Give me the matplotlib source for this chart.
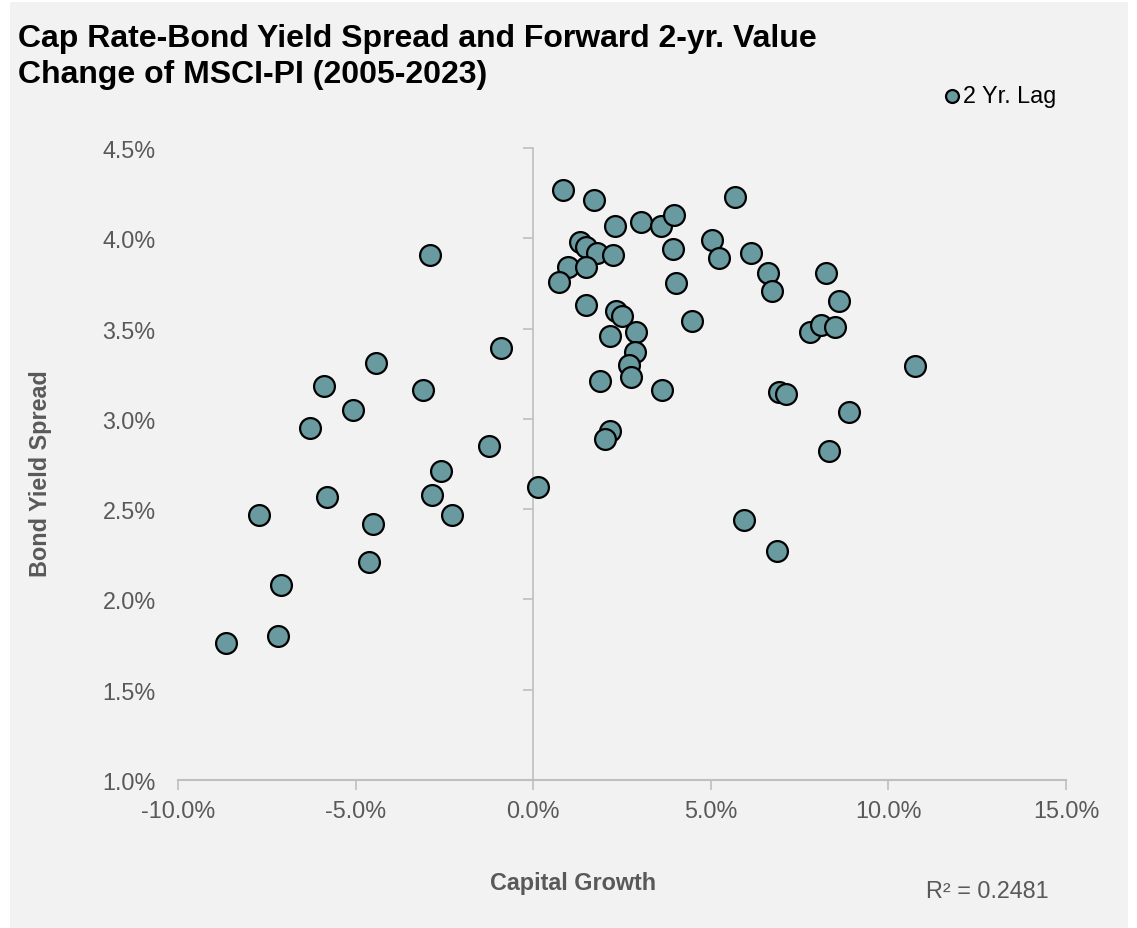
import matplotlib
matplotlib.use("Agg")
import matplotlib.pyplot as plt
from matplotlib.patches import Rectangle
from matplotlib.ticker import FuncFormatter, MultipleLocator

# Data (percent)
capital_growth = [0.85, 1.72, 2.29, 3.03, 3.61, 3.96, 5.69, 1.32, 1.48, 1.81,
                  2.26, 0.99, 1.48, 0.74, 3.93, 5.03, 5.22, 6.12, 6.62, 6.73,
                  4.01, 1.50, 2.34, 2.50, 4.47, 2.15, 2.90, 2.87, 2.69, 2.75,
                  1.89, 3.62, 6.93, 7.12, 7.78, 8.24, 8.61, 8.10, 8.50, 10.74,
                  8.90, 8.33, 2.15, 2.03, -0.90, -4.42, -5.88, -3.09, -5.07, -6.29,
                  -1.24, -2.59, -2.84, -5.81, -7.71, -4.51, -2.30, -4.63, -7.09, -8.64,
                  -7.19, -2.90, 0.14, 5.94, 6.87]
bond_yield_spread = [4.27, 4.21, 4.07, 4.09, 4.07, 4.13, 4.23, 3.98, 3.95, 3.92,
                     3.91, 3.84, 3.84, 3.76, 3.94, 3.99, 3.89, 3.92, 3.81, 3.71,
                     3.75, 3.63, 3.60, 3.57, 3.54, 3.46, 3.48, 3.37, 3.30, 3.23,
                     3.21, 3.16, 3.15, 3.14, 3.48, 3.81, 3.65, 3.52, 3.51, 3.29,
                     3.04, 2.82, 2.93, 2.89, 3.39, 3.31, 3.18, 3.16, 3.05, 2.95,
                     2.85, 2.71, 2.58, 2.57, 2.47, 2.42, 2.47, 2.21, 2.08, 1.76,
                     1.80, 3.91, 2.62, 2.44, 2.27]
series_label = "2 Yr. Lag"
r_squared_text = "R² = 0.2481"
title_lines = ["Cap Rate-Bond Yield Spread and Forward 2-yr. Value",
               "Change of MSCI-PI (2005-2023)"]

BG = "#F2F2F2"
GREY = "#BFBFBF"
TXT = "#595959"
FILL = "#699A9F"
FS = 16.8

plt.rcParams['font.family'] = ['Liberation Sans', 'DejaVu Sans']

W, H = 1137, 929
fig = plt.figure(figsize=(W/100, H/100), dpi=100, facecolor="white")
fig.patches.append(Rectangle((10/W, 0), 1118/W, 926/H, transform=fig.transFigure,
                             facecolor=BG, edgecolor="none", zorder=-10))

ax = fig.add_axes([178/W, 1-781/H, 888/W, 632/H], facecolor=BG)

ax.scatter(capital_growth, bond_yield_spread, s=225, c=FILL, edgecolors="black",
           linewidths=1.6, zorder=3, label=series_label)

ax.set_xlim(-10, 15)
ax.set_ylim(1.0, 4.5)
ax.xaxis.set_major_locator(MultipleLocator(5))
ax.yaxis.set_major_locator(MultipleLocator(0.5))
ax.xaxis.set_major_formatter(FuncFormatter(lambda v, p: f"{v:.1f}%"))
ax.yaxis.set_major_formatter(FuncFormatter(lambda v, p: f"{v:.1f}%"))

for s in ["top", "right", "left"]:
    ax.spines[s].set_visible(False)
ax.spines["bottom"].set_color(GREY)
ax.spines["bottom"].set_linewidth(1.5)

ax.tick_params(axis="x", colors=GREY, length=7, width=1.2, pad=7,
               labelcolor=TXT, labelsize=FS)
ax.tick_params(axis="y", length=0, pad=16, labelcolor=TXT, labelsize=FS)

sec = ax.secondary_yaxis(0, transform=ax.transData)
sec.spines["left"].set_color(GREY)
sec.spines["left"].set_linewidth(1.2)
sec.yaxis.set_major_locator(MultipleLocator(0.5))
sec.tick_params(axis="y", colors=GREY, length=7, width=1.2, labelleft=False)

fig.text(47.5/W, 1-474/H, "Bond Yield Spread", rotation=90, rotation_mode="anchor",
         ha="center", va="baseline", fontsize=FS, fontweight="bold", color=TXT)
fig.text(573/W, 1-890/H, "Capital Growth", ha="center", va="baseline",
         fontsize=FS, fontweight="bold", color=TXT)
fig.text(987/W, 1-898/H, r_squared_text, ha="center", va="baseline",
         fontsize=FS, color=TXT)

fig.text(18/W, 1-47.3/H, title_lines[0], ha="left", va="baseline",
         fontsize=23, fontweight="bold", color="black")
fig.text(18/W, 1-82.7/H, title_lines[1], ha="left", va="baseline",
         fontsize=23, fontweight="bold", color="black")

leg = fig.legend(loc="center left", bbox_to_anchor=(943/W, 1-97/H),
                 frameon=False, markerscale=0.62, handletextpad=0.05,
                 fontsize=FS, borderaxespad=0, borderpad=0, handlelength=0.8)
for t in leg.get_texts():
    t.set_color("black")

fig.savefig("out.png", dpi=100, facecolor="white")
